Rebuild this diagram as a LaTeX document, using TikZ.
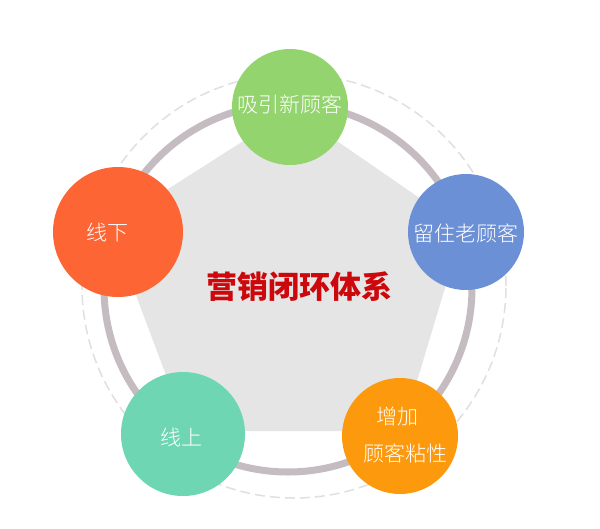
\documentclass[tikz,border=0pt]{standalone}
\usepackage{fontspec}
\newfontfamily\cjk{Noto Sans CJK SC}
\newfontfamily\cjklight{Noto Sans CJK SC Light}
\definecolor{cgreen}{RGB}{147,212,110}
\definecolor{cblue}{RGB}{108,144,214}
\definecolor{cred}{RGB}{253,102,52}
\definecolor{cteal}{RGB}{111,214,180}
\definecolor{corange}{RGB}{253,153,12}
\definecolor{ringc}{RGB}{196,188,192}
\definecolor{dashc}{RGB}{224,224,224}
\definecolor{pentc}{RGB}{229,229,229}
\definecolor{titlec}{RGB}{204,8,12}
\begin{document}
\begin{tikzpicture}[x=1pt,y=-1pt,
  bubble/.style={circle,inner sep=0pt,minimum size=#1},
  lbl/.style={text=white,font=\cjklight\fontsize{21}{24}\selectfont,inner sep=0pt},
  ttl/.style={text=titlec,font=\cjk\bfseries\fontsize{31}{34}\selectfont,inner sep=0pt}]
\useasboundingbox[fill=white] (0,0) rectangle (600,528);
% dashed outer circle
\coordinate (oc) at (294,286);
\draw[dashc,line width=1.5pt,dash pattern=on 10pt off 5pt] (oc) circle[radius=212pt];
% pentagon
\coordinate (p1) at (292,110);
\coordinate (p2) at (463,228);
\coordinate (p3) at (402,431);
\coordinate (p4) at (187,431);
\coordinate (p5) at (110,226);
\fill[pentc] (p1) -- (p2) -- (p3) -- (p4) -- (p5) -- cycle;
% ring
\coordinate (rc) at (288,288);
\draw[ringc,line width=7pt] (rc) circle[radius=184pt];
% bubbles
\node[bubble=116pt,fill=cgreen] (g) at (290,107) {};
\node[bubble=116pt,fill=cblue] (b) at (466,232) {};
\node[bubble=130pt,fill=cred] (r) at (118,232) {};
\node[bubble=124pt,fill=cteal] (t) at (183,434) {};
\node[bubble=116pt,fill=corange] (o) at (400,436) {};
% labels
\node[lbl] (lg) at (290,104) {吸引新顾客};
\node[lbl] (lb) at (466,233) {留住老顾客};
\node[lbl] (lr) at (107,233) {线下};
\node[lbl] (lt) at (181,437) {线上};
\node[lbl] (lo1) at (397,417) {增加};
\node[lbl] (lo2) at (405,453) {顾客粘性};
\node[ttl] (title) at (299,287) {营销闭环体系};
\end{tikzpicture}
\end{document}
